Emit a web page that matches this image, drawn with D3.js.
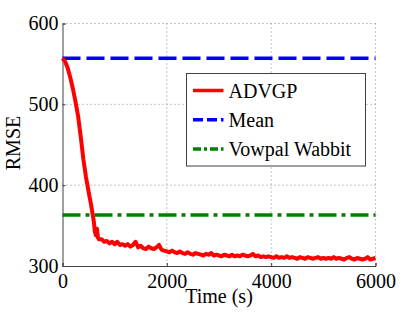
<!DOCTYPE html>
<html>
<head>
<meta charset="utf-8">
<script src="https://cdn.jsdelivr.net/npm/d3@7"></script>
<style>
  body { margin: 0; background: #fff; }
  svg text { font-family: "Liberation Serif", "DejaVu Serif", serif; fill: #000; }
</style>
</head>
<body>
<div id="chart"></div>
<script>
// data
const xTicks = [0, 2000, 4000, 6000];
const yTicks = [300, 400, 500, 600];
const meanRmse = 557;
const vowpalRmse = 363;
const advgpTime = [
  0, 50, 100, 150, 200, 250, 300, 350, 400, 450, 500, 550, 600, 620, 640, 660, 680, 700, 750, 800,
  850, 900, 950, 1000, 1050, 1100, 1150, 1200, 1250, 1300, 1350, 1400, 1450, 1500, 1550, 1600, 1650, 1700, 1750, 1800,
  1850, 1900, 1950, 2000, 2050, 2100, 2150, 2200, 2250, 2300, 2350, 2400, 2450, 2500, 2550, 2600, 2650, 2700, 2750, 2800,
  2850, 2900, 2950, 3000, 3050, 3100, 3150, 3200, 3250, 3300, 3350, 3400, 3450, 3500, 3550, 3600, 3650, 3700, 3750, 3800,
  3850, 3900, 3950, 4000, 4050, 4100, 4150, 4200, 4250, 4300, 4350, 4400, 4450, 4500, 4550, 4600, 4650, 4700, 4750, 4800,
  4850, 4900, 4950, 5000, 5050, 5100, 5150, 5200, 5250, 5300, 5350, 5400, 5450, 5500, 5550, 5600, 5650, 5700, 5750, 5800,
  5850, 5900, 5950, 6000
];
const advgpRmse = [
  557, 553, 545, 533, 519, 503, 485, 460, 432, 410, 392, 375, 355, 343, 338, 346, 335, 333, 333, 330,
  331, 328, 330, 327, 330, 326, 327, 325, 327, 324, 326, 330, 323, 325, 322, 321, 324, 322, 321, 323,
  326, 320, 319, 318, 317, 319, 317, 316, 318, 316, 315, 317, 315, 314, 316, 315, 314, 313, 315, 314,
  316, 313, 314, 313, 312, 314, 313, 312, 314, 312, 313, 312, 314, 313, 312, 313, 315, 312, 313, 311,
  312, 311, 312, 311, 310, 312, 310, 311, 310, 312, 310, 311, 310, 309, 311, 310, 309, 311, 310, 309,
  310, 311, 309, 310, 309, 310, 309, 311, 309, 310, 309, 308, 310, 311, 309, 308, 310, 309, 308, 309,
  311, 308, 309, 310
];
const legendLabels = ["ADVGP", "Mean", "Vowpal Wabbit"];

const W = 415, H = 312;
const margin = { top: 23.5, right: 39.5, bottom: 46, left: 62.5 };
const width = W - margin.left - margin.right;
const height = H - margin.top - margin.bottom;
const fontSize = "20px";

const svg = d3.select("#chart").append("svg")
  .attr("width", W).attr("height", H);
const g = svg.append("g")
  .attr("transform", `translate(${margin.left},${margin.top})`);

const xScale = d3.scaleLinear().domain([0, 6000]).range([0, width]);
const yScale = d3.scaleLinear().domain([300, 600]).range([height, 0]);

// grid
g.append("g").selectAll("line").data(xTicks.filter(d => d > 0)).join("line")
  .attr("x1", d => xScale(d)).attr("x2", d => xScale(d))
  .attr("y1", 0).attr("y2", height)
  .attr("stroke", "#8c8c8c").attr("stroke-width", 1).attr("stroke-dasharray", "1,3");
g.append("g").selectAll("line").data(yTicks.filter(d => d > 300)).join("line")
  .attr("x1", 0).attr("x2", width)
  .attr("y1", d => yScale(d)).attr("y2", d => yScale(d))
  .attr("stroke", "#8c8c8c").attr("stroke-width", 1).attr("stroke-dasharray", "1,3");

// axes
const xAxis = g.append("g").attr("transform", `translate(0,${height})`)
  .call(d3.axisBottom(xScale).tickValues(xTicks).tickSize(-3).tickPadding(8).tickFormat(d3.format("d")));
const yAxis = g.append("g")
  .call(d3.axisLeft(yScale).tickValues(yTicks).tickSize(-3).tickPadding(4).tickFormat(d3.format("d")));
[xAxis, yAxis].forEach(a => {
  a.select(".domain").attr("stroke", "#404040");
  a.selectAll(".tick line").attr("stroke", "#404040");
  a.selectAll("text").style("font-family", "Liberation Serif").style("font-size", fontSize).attr("fill", "#000");
});

// reference lines
g.append("line")
  .attr("x1", xScale(0)).attr("x2", xScale(6000))
  .attr("y1", yScale(vowpalRmse)).attr("y2", yScale(vowpalRmse))
  .attr("stroke", "#008000").attr("stroke-width", 3.5).attr("stroke-dasharray", "18,5,4,5");
g.append("line")
  .attr("x1", xScale(0)).attr("x2", xScale(6000))
  .attr("y1", yScale(meanRmse)).attr("y2", yScale(meanRmse))
  .attr("stroke", "#0000ff").attr("stroke-width", 3.5).attr("stroke-dasharray", "18,6");

// ADVGP curve
const advgp = advgpTime.map((t, i) => ({ t: t, v: advgpRmse[i] }));
const line = d3.line().x(d => xScale(d.t)).y(d => yScale(d.v));
g.append("path").datum(advgp)
  .attr("fill", "none")
  .attr("stroke", "#ff0000")
  .attr("stroke-width", 4)
  .attr("stroke-linejoin", "round")
  .attr("d", line);

// axis labels
svg.append("text")
  .attr("x", 219).attr("y", 303)
  .attr("text-anchor", "middle")
  .style("font-size", fontSize)
  .text("Time (s)");
svg.append("text")
  .attr("transform", "translate(20,143) rotate(-90)")
  .attr("text-anchor", "middle")
  .style("font-size", fontSize)
  .text("RMSE");

// legend
const legend = svg.append("g").attr("transform", "translate(186.5,73.5)");
legend.append("rect")
  .attr("width", 179).attr("height", 92.5)
  .attr("fill", "#fff").attr("stroke", "#404040").attr("stroke-width", 1);
const legendStyles = [
  { color: "#ff0000", dash: null },
  { color: "#0000ff", dash: "10,4" },
  { color: "#008000", dash: "8,3,3,3" }
];
legend.selectAll("g.item").data(legendLabels).join("g")
  .attr("class", "item")
  .attr("transform", (d, i) => `translate(0,${17 + i * 29.3})`)
  .each(function(d, i) {
    const it = d3.select(this);
    it.append("line")
      .attr("x1", 6.5).attr("x2", 37)
      .attr("stroke", legendStyles[i].color)
      .attr("stroke-width", 3.5)
      .attr("stroke-dasharray", legendStyles[i].dash);
    it.append("text")
      .attr("x", 42).attr("dy", "0.35em")
      .style("font-size", fontSize)
      .text(d);
  });
</script>
</body>
</html>
